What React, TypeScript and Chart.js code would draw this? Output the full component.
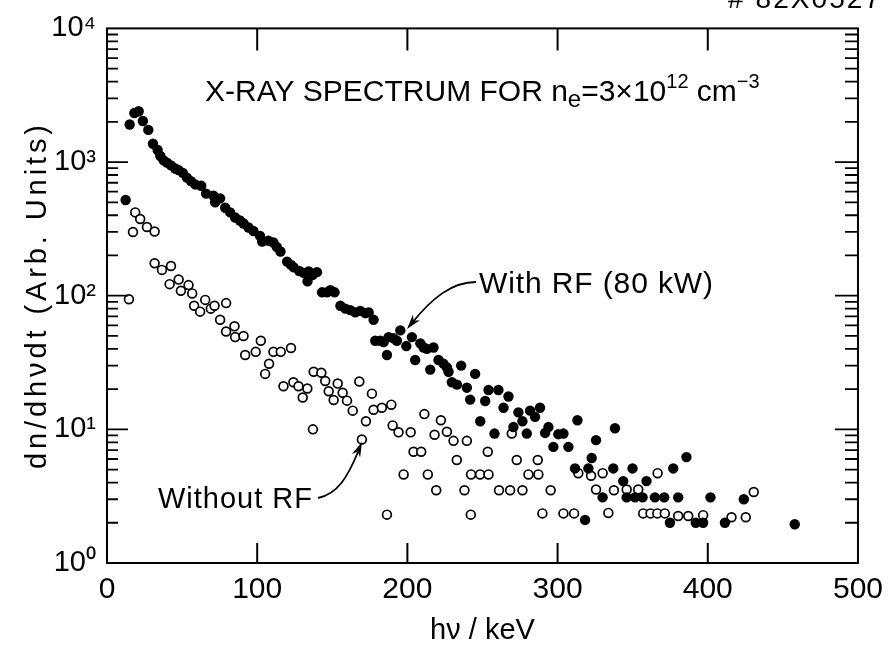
import React, { useEffect, useRef } from "react";
import { Chart, registerables } from "chart.js";

Chart.register(...registerables);

// ---------- data ----------
const withRfKeV = [
  12.4, 15.1, 18.2, 21.1, 23.9, 27.5, 30.6, 33.7, 35.5, 37.7, 39.9, 42.6, 45.4, 47.7, 50.5,
  53.2, 55.9, 58.7, 62.7, 66.0, 70.9, 72.0, 75.3, 78.7, 82.0, 85.3, 88.5, 90.9, 94.2, 97.5,
  101.9, 103.3, 107.5, 110.8, 113.0, 115.5, 119.9, 122.5, 124.3, 128.0, 131.0, 133.5, 134.3,
  137.0, 139.8, 143.2, 146.5, 148.7, 151.5, 155.4, 158.7, 162.0, 165.3, 168.7, 172.0, 174.2,
  177.5, 178.6, 182.0, 184.2, 186.4, 187.5, 190.8, 193.0, 195.3, 199.3, 203.0, 205.2, 208.6,
  210.8, 213.0, 215.2, 217.4, 220.7, 224.0, 226.3, 227.4, 229.6, 233.0, 235.8, 239.6, 241.8,
  245.1, 248.5, 251.8, 254.0, 258.0, 260.6, 264.0, 267.3, 270.6, 273.9, 276.6, 279.5, 281.7,
  285.0, 288.3, 291.7, 293.9, 297.2, 300.5, 303.9, 307.2, 311.6, 313.2, 318.3, 320.5, 322.7,
  325.6, 330.0, 337.1, 338.2, 343.7, 346.0, 349.9, 351.5, 356.6, 359.2, 364.8, 371.0, 374.8,
  377.0, 380.3, 385.8, 392.0, 396.9, 401.8, 411.4, 424.0, 457.9,
];
const withRfCounts = [
  520, 1910, 2330, 2400, 2030, 1740, 1370, 1230, 1110, 1030, 990, 945, 895, 870, 830,
  765, 720, 680, 665, 580, 560, 500, 535, 455, 420, 385, 365, 347, 324, 305,
  280, 254, 258, 250, 232, 214, 180, 170, 163, 153, 148, 128, 152,
  143, 150, 106, 106, 110, 106, 84, 80, 78, 75, 77, 74, 75,
  66, 46, 46, 45, 36, 49, 48, 46, 55, 42, 49, 33, 44,
  41, 40, 28, 41, 33, 31, 29, 27, 22.5, 21.6, 30, 20.5, 16.7,
  26, 11.5, 16.3, 19.7, 9.3, 19.7, 14.5, 17.6, 10.4, 13.4, 11.5, 9.3, 13.8,
  12.4, 14.5, 9.4, 10.4, 7.4, 9.2, 9.3, 7.4, 5.1, 11.7, 2.1, 5.1, 6.1,
  8.3, 3.1, 5.1, 10.2, 4.1, 3.1, 5.1, 3.1, 3.1, 4.1, 3.1, 3.1, 2.0,
  5.1, 3.1, 6.2, 2.0, 2.0, 3.1, 2.0, 3.0, 1.95,
];

const withoutRfKeV = [
  14.6, 17.3, 18.8, 22.1, 26.6, 31.7, 31.7, 36.6, 41.7, 42.6, 47.7, 49.2, 54.3, 56.7, 58.0,
  62.0, 65.4, 69.1, 71.6, 75.3, 79.3, 79.3, 84.9, 85.3, 90.9, 92.0, 99.0, 102.4, 105.3, 107.9,
  110.8, 115.7, 117.5, 122.5, 124.1, 127.5, 130.3, 133.4, 137.1, 137.6, 142.7, 145.3, 147.6,
  150.9, 153.6, 156.9, 159.8, 163.6, 168.0, 169.7, 172.4, 176.4, 177.5, 183.0, 186.4, 189.3,
  190.2, 194.1, 197.5, 202.2, 204.1, 209.2, 211.3, 213.6, 218.1, 219.2, 222.3, 226.3, 230.7,
  232.9, 238.0, 239.6, 242.2, 242.4, 248.4, 253.5, 254.0, 261.0, 268.4, 269.5, 272.8, 276.6,
  280.6, 286.8, 287.2, 289.9, 295.4, 303.9, 311.0, 313.8, 322.3, 325.6, 330.0, 333.8, 337.5,
  346.0, 353.7, 357.0, 361.9, 366.4, 366.6, 371.4, 380.3, 387.0, 396.9, 415.8, 425.3, 430.6,
];
const withoutRfCounts = [
  94, 300, 420, 375, 327, 302, 175, 156, 122, 167, 132, 109, 120, 104, 84,
  76, 93, 80, 84, 66, 88, 54, 59, 49, 50, 36, 38, 46, 26, 31,
  38, 38, 21, 40.6, 22.5, 21, 17.3, 20.2, 10.0, 27, 26.5, 23, 19.3,
  16.6, 22, 18.8, 16.4, 13.8, 22.8, 8.4, 11.5, 18.5, 14, 14.5, 2.3, 15.3,
  10.7, 9.5, 4.6, 9.5, 6.8, 6.8, 13, 4.6, 9.1, 3.5, 11.7, 9.6, 8.2,
  5.9, 3.5, 8.2, 2.3, 4.6, 4.6, 6.8, 4.6, 3.5, 3.5, 9.3, 5.9, 3.5,
  4.6, 5.9, 4.6, 2.35, 3.5, 2.35, 2.35, 4.7, 4.5, 3.55, 4.7, 2.37, 3.5,
  3.55, 3.55, 2.35, 2.35, 2.35, 4.7, 2.35, 2.25, 2.25, 2.28, 2.2, 2.2, 3.4,
];

const xTickValues = [0, 100, 200, 300, 400, 500];
const yTickValues = [1, 10, 100, 1000, 10000];
const yTickLabels = ["10\u2070", "10\u00B9", "10\u00B2", "10\u00B3", "10\u2074"];
const xAxisTitle = "h\u03BD / keV";
const yAxisTitle = "dn/dh\u03BDdt (Arb. Units)";
const withRfLabel = "With RF (80 kW)";
const withoutRfLabel = "Without RF";
const figureId = "# 82X0527";

const FONT = "'Liberation Sans', Arial, sans-serif";

type Piece = { text: string; size: number; dy: number };

function drawFitted(ctx: CanvasRenderingContext2D, pieces: Piece[], x: number, baseline: number, target: number) {
  const anyCtx = ctx as any;
  anyCtx.letterSpacing = "0px";
  let natural = 0;
  let chars = 0;
  const widths: number[] = [];
  for (const p of pieces) {
    ctx.font = `${p.size}px ${FONT}`;
    const w = ctx.measureText(p.text).width;
    widths.push(w);
    natural += w;
    chars += p.text.length;
  }
  const ls = Math.max(0, (target - natural) / Math.max(1, chars - 1));
  let cx = x;
  pieces.forEach((p, i) => {
    ctx.font = `${p.size}px ${FONT}`;
    anyCtx.letterSpacing = `${ls}px`;
    ctx.fillText(p.text, cx, baseline + p.dy);
    cx += widths[i] + p.text.length * ls;
  });
  anyCtx.letterSpacing = "0px";
}

function arrow(ctx: CanvasRenderingContext2D, pts: number[], tip: [number, number], from: [number, number]) {
  ctx.beginPath();
  ctx.moveTo(pts[0], pts[1]);
  ctx.bezierCurveTo(pts[2], pts[3], pts[4], pts[5], pts[6], pts[7]);
  ctx.stroke();
  const dx = tip[0] - from[0];
  const dy = tip[1] - from[1];
  const len = Math.hypot(dx, dy);
  const ux = dx / len;
  const uy = dy / len;
  const L = 15;
  const W = 4.5;
  ctx.beginPath();
  ctx.moveTo(tip[0], tip[1]);
  ctx.lineTo(tip[0] - ux * L - uy * W, tip[1] - uy * L + ux * W);
  ctx.lineTo(tip[0] - ux * L * 0.7, tip[1] - uy * L * 0.7);
  ctx.lineTo(tip[0] - ux * L + uy * W, tip[1] - uy * L - ux * W);
  ctx.closePath();
  ctx.fill();
}

const framePlugin = {
  id: "frameAndNotes",
  afterDatasetsDraw(chart: any) {
    const { ctx, chartArea } = chart;
    const { left, right, top, bottom } = chartArea;
    const xs = chart.scales.x;
    const ys = chart.scales.y;
    ctx.save();
    ctx.strokeStyle = "#000";
    ctx.fillStyle = "#000";
    ctx.lineWidth = 2;
    ctx.strokeRect(left, top, right - left, bottom - top);

    // x ticks (inside, top and bottom)
    ctx.beginPath();
    for (const v of xTickValues) {
      const px = xs.getPixelForValue(v);
      if (px <= left + 1 || px >= right - 1) continue;
      ctx.moveTo(px, top);
      ctx.lineTo(px, top + 22);
      ctx.moveTo(px, bottom);
      ctx.lineTo(px, bottom - 20);
    }
    ctx.stroke();

    // y ticks (inside, left and right), majors + minors
    ctx.beginPath();
    ctx.lineWidth = 1.8;
    for (let d = 0; d < 4; d++) {
      for (let k = 1; k <= 9; k++) {
        const v = k * Math.pow(10, d);
        const py = ys.getPixelForValue(v);
        const major = k === 1;
        if (d === 0 && k === 1) continue;
        ctx.moveTo(left, py);
        ctx.lineTo(left + (major ? 21 : 11), py);
        ctx.moveTo(right, py);
        ctx.lineTo(right - (major ? 23 : 13), py);
      }
    }
    ctx.stroke();

    // title
    ctx.textAlign = "left";
    ctx.textBaseline = "alphabetic";
    drawFitted(
      ctx,
      [
        { text: "X-RAY SPECTRUM FOR ", size: 30, dy: 0 },
        { text: "n", size: 30, dy: 0 },
        { text: "e", size: 24, dy: 6 },
        { text: "=3\u00D710", size: 30, dy: 0 },
        { text: "12", size: 20, dy: -13 },
        { text: " cm", size: 30, dy: 0 },
        { text: "\u22123", size: 20, dy: -13 },
      ],
      205,
      101,
      552
    );

    // annotations
    drawFitted(ctx, [{ text: withRfLabel, size: 30, dy: 0 }], 479, 293, 234);
    drawFitted(ctx, [{ text: withoutRfLabel, size: 29, dy: 0 }], 158, 508, 154);
    ctx.lineWidth = 1.8;
    arrow(ctx, [476, 282, 452, 282, 432, 298, 412, 323], [407, 329], [420, 313]);
    arrow(ctx, [318, 498, 338, 494, 348, 476, 358, 452], [362, 442], [355, 458]);

    // y axis title (rotated)
    ctx.save();
    ctx.translate(46, 297);
    ctx.rotate(-Math.PI / 2);
    drawFitted(ctx, [{ text: yAxisTitle, size: 29, dy: 0 }], -172, 0, 344);
    ctx.restore();

    // figure id, cut by the top edge
    drawFitted(ctx, [{ text: figureId, size: 28, dy: 0 }], 728, 8, 152);
    ctx.restore();
  },
};

export default function App() {
  const canvasRef = useRef<HTMLCanvasElement | null>(null);

  useEffect(() => {
    const canvas = canvasRef.current;
    if (!canvas) return;
    const chart = new Chart(canvas, {
      type: "scatter",
      data: {
        datasets: [
          {
            label: withRfLabel,
            data: withRfKeV.map((x, i) => ({ x, y: withRfCounts[i] })),
            pointRadius: 5.2,
            pointBackgroundColor: "#000",
            pointBorderColor: "#000",
            pointBorderWidth: 0,
            showLine: false,
          },
          {
            label: withoutRfLabel,
            data: withoutRfKeV.map((x, i) => ({ x, y: withoutRfCounts[i] })),
            pointRadius: 4.4,
            pointBackgroundColor: "#fff",
            pointBorderColor: "#000",
            pointBorderWidth: 1.7,
            showLine: false,
          },
        ],
      },
      plugins: [framePlugin],
      options: {
        animation: false,
        responsive: false,
        devicePixelRatio: 1,
        layout: { padding: { left: 0, top: 27, right: 31, bottom: 0 } },
        plugins: {
          legend: { display: false },
          tooltip: { enabled: false },
          title: { display: false },
        },
        scales: {
          x: {
            type: "linear",
            min: 0,
            max: 500,
            afterBuildTicks: (scale: any) => {
              scale.ticks = xTickValues.map((v) => ({ value: v }));
            },
            afterFit: (scale: any) => {
              scale.height = 91;
            },
            grid: { display: false, drawTicks: false },
            border: { display: false },
            ticks: {
              autoSkip: false,
              maxRotation: 0,
              padding: 9,
              color: "#000",
              font: { family: FONT, size: 30 },
              callback: (v: any) => String(v),
            },
            title: {
              display: true,
              text: xAxisTitle,
              color: "#000",
              font: { family: FONT, size: 29 },
              padding: { top: 0, bottom: 6 },
            },
          },
          y: {
            type: "logarithmic",
            min: 1,
            max: 10000,
            afterBuildTicks: (scale: any) => {
              scale.ticks = yTickValues.map((v) => ({ value: v }));
            },
            afterFit: (scale: any) => {
              scale.width = 107;
            },
            grid: { display: false, drawTicks: false },
            border: { display: false },
            ticks: {
              autoSkip: false,
              padding: 11,
              color: "#000",
              font: { family: FONT, size: 29 },
              callback: (v: any) => {
                const i = yTickValues.indexOf(Number(v));
                return i >= 0 ? yTickLabels[i] : "";
              },
            },
          },
        },
      },
    } as any);
    return () => chart.destroy();
  }, []);

  return (
    <div style={{ position: "absolute", left: 0, top: 0, width: 892, height: 654, background: "#fff" }}>
      <canvas ref={canvasRef} width={892} height={654} style={{ display: "block", width: 892, height: 654 }} />
    </div>
  );
}
